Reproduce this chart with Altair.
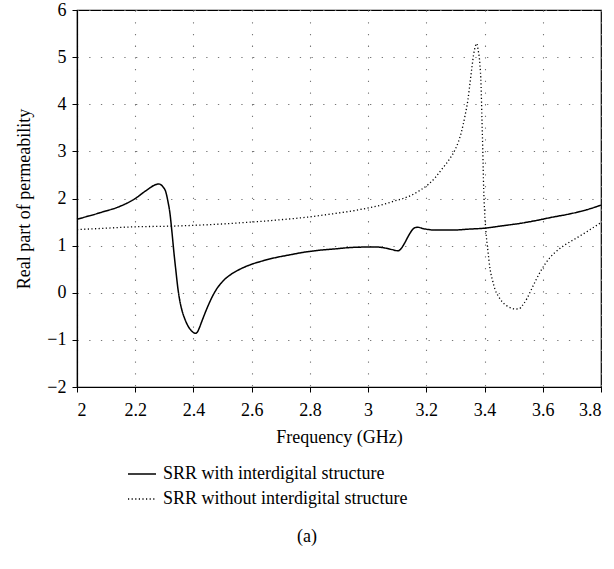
import altair as alt
import pandas as pd

# ---- data ----
with_freq = [2.00, 2.08, 2.15, 2.195, 2.24, 2.265, 2.28, 2.295, 2.305, 2.312, 2.319, 2.326,
             2.333, 2.340, 2.346, 2.352, 2.360, 2.370, 2.380, 2.392, 2.402, 2.408, 2.414,
             2.420, 2.428, 2.438, 2.450, 2.465, 2.483, 2.505, 2.529, 2.56, 2.598, 2.64,
             2.678, 2.736, 2.77, 2.83, 2.885, 2.94, 3.0, 3.03, 3.057, 3.08, 3.103, 3.115,
             3.125, 3.138, 3.15, 3.16, 3.17, 3.19, 3.21, 3.23, 3.29, 3.345, 3.40, 3.46,
             3.52, 3.575, 3.63, 3.69, 3.75, 3.80]
with_val = [1.56, 1.70, 1.84, 1.98, 2.18, 2.28, 2.31, 2.25, 2.14, 1.95, 1.70, 1.30,
            0.85, 0.45, 0.12, -0.13, -0.36, -0.55, -0.69, -0.80, -0.85, -0.86, -0.83,
            -0.75, -0.62, -0.46, -0.28, -0.08, 0.11, 0.27, 0.39, 0.50, 0.60, 0.68,
            0.74, 0.81, 0.85, 0.90, 0.93, 0.96, 0.97, 0.97, 0.95, 0.92, 0.89, 0.95,
            1.05, 1.20, 1.32, 1.38, 1.39, 1.36, 1.34, 1.33, 1.33, 1.35, 1.37, 1.42,
            1.47, 1.53, 1.60, 1.67, 1.76, 1.86]

without_freq = [2.00, 2.10, 2.20, 2.30, 2.40, 2.50, 2.60, 2.70, 2.77, 2.884, 2.95, 3.0,
                3.05, 3.092, 3.12, 3.149, 3.18, 3.207, 3.23, 3.253, 3.28, 3.30, 3.32,
                3.333, 3.343, 3.35, 3.357, 3.362, 3.368, 3.373, 3.378, 3.384, 3.388,
                3.391, 3.394, 3.397, 3.400, 3.405, 3.411, 3.419, 3.428, 3.436, 3.447,
                3.459, 3.475, 3.494, 3.51, 3.519, 3.53, 3.546, 3.56, 3.575, 3.59, 3.609,
                3.625, 3.643, 3.67, 3.71, 3.75, 3.77, 3.80]
without_val = [1.34, 1.37, 1.40, 1.41, 1.43, 1.46, 1.50, 1.55, 1.59, 1.68, 1.74, 1.80,
               1.87, 1.95, 2.00, 2.07, 2.18, 2.30, 2.44, 2.62, 2.84, 3.05, 3.40,
               3.76, 4.10, 4.45, 4.80, 5.04, 5.22, 5.29, 5.15, 4.85, 4.40,
               3.70, 3.00, 2.20, 1.75, 1.28, 0.92, 0.50, 0.25, 0.07, -0.07,
               -0.18, -0.27, -0.33, -0.345, -0.34, -0.27, -0.12, 0.06, 0.25, 0.43, 0.62,
               0.75, 0.86, 0.99, 1.14, 1.29, 1.37, 1.49]

series_names = ["SRR with interdigital structure", "SRR without interdigital structure"]
x_ticks = [2, 2.2, 2.4, 2.6, 2.8, 3, 3.2, 3.4, 3.6, 3.8]
y_ticks = [-2, -1, 0, 1, 2, 3, 4, 5, 6]
caption = ["(a)"]

df = pd.concat([
    pd.DataFrame({"f": with_freq, "v": with_val, "s": series_names[0]}),
    pd.DataFrame({"f": without_freq, "v": without_val, "s": series_names[1]}),
], ignore_index=True)

FONT = "Liberation Serif"
FS = 18
W, H = 524, 377

lines = alt.Chart(df).mark_line(interpolate="monotone", color="black").encode(
    x=alt.X("f:Q", scale=alt.Scale(domain=[2, 3.8], nice=False, zero=False),
            axis=alt.Axis(values=x_ticks, format="~g", title="Frequency (GHz)",
                          labelPadding=9, titlePadding=9, labelFont=FONT, titleFont=FONT)),
    y=alt.Y("v:Q", scale=alt.Scale(domain=[-2, 6], nice=False, zero=False),
            axis=alt.Axis(values=y_ticks, format="~g", title="Real part of permeability",
                          labelPadding=6, titlePadding=13, labelFont=FONT, titleFont=FONT)),
    strokeDash=alt.StrokeDash("s:N", scale=alt.Scale(domain=series_names, range=[[1, 0], [1.2, 2.4]]),
                              legend=alt.Legend(title=None, orient="none", legendX=50, legendY=449,
                                                symbolType="stroke", symbolSize=784,
                                                symbolStrokeWidth=1.4, symbolStrokeColor="black",
                                                labelFont=FONT, labelFontSize=FS, labelColor="black",
                                                labelOffset=6, rowPadding=1, labelLimit=400)),
    strokeWidth=alt.StrokeWidth("s:N", scale=alt.Scale(domain=series_names, range=[1.5, 1.3]),
                                legend=None),
)

cap = alt.Chart(pd.DataFrame({"t": caption})).mark_text(
    font=FONT, fontSize=FS, color="black", baseline="middle", align="center"
).encode(text="t:N", x=alt.value(W / 2 - 32), y=alt.value(527))

chart = alt.layer(lines, cap).properties(
    width=W, height=H, background="white",
    autosize=alt.AutoSizeParams(type="none"),
    padding={"left": 77, "top": 10, "right": 13, "bottom": 182},
).configure_view(stroke="black", strokeWidth=1.2).configure_axis(
    labelFontSize=FS, titleFontSize=FS,
    labelColor="black", titleColor="black", titleFontWeight="normal",
    domainColor="black", domainWidth=1.2, tickColor="black", tickSize=5,
    gridColor="#777777", gridDash=[1.3, 10.4], gridWidth=1.1,
).configure_text(font=FONT).configure_legend(labelFont=FONT)

chart.save("out.html", embed_options={"renderer": "svg", "actions": False})
